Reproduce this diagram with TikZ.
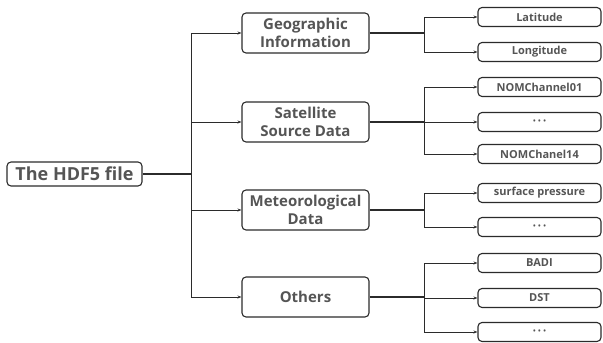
\documentclass[tikz,border=0pt]{standalone}
\usepackage{fontspec}
\setmainfont{Open Sans}
\usetikzlibrary{arrows.meta}
\definecolor{txt}{HTML}{555555}
\definecolor{ln}{HTML}{2B2B2B}
\newcommand{\mydots}{{\fontsize{7}{8}\selectfont •\hspace{2.5pt}•\hspace{2.5pt}•}}
\begin{document}
\begin{tikzpicture}[x=1pt,y=-1pt,
  box/.style={draw=ln,line width=1.1pt,rounded corners=4pt,text=txt,font=\bfseries,align=center,inner sep=0pt},
  rootbox/.style={box,minimum width=135pt,minimum height=24pt,font=\fontsize{18}{20}\selectfont\bfseries},
  midbox/.style={box,minimum width=127pt,minimum height=40pt,font=\fontsize{15}{17.5}\selectfont\bfseries},
  leafbox/.style={box,minimum width=123pt,minimum height=19pt,font=\fontsize{11}{12}\selectfont\bfseries},
  conn/.style={draw=ln,line width=0.9pt},
  arr/.style={conn,-{Stealth[length=4pt,width=3pt]}}]
\useasboundingbox (0,0) rectangle (603,343);
\node[rootbox] (root) at (74.5,174) {The HDF5 file};
\node[midbox] (geo) at (305.5,33) {Geographic\\Information};
\node[midbox] (sat) at (305.5,122) {Satellite\\Source Data};
\node[midbox] (met) at (305.5,210) {Meteorological\\Data};
\node[midbox] (oth) at (305.5,297) {Others};
\node[leafbox] (lat) at (539.5,17) {Latitude};
\node[leafbox] (lon) at (539.5,52) {Longitude};
\node[leafbox] (n01) at (539.5,87) {NOMChannel01};
\node[leafbox] (sd) at (539.5,122) {\mydots};
\node[leafbox] (n14) at (539.5,154) {NOMChanel14};
\node[leafbox] (sp) at (539.5,193) {surface pressure};
\node[leafbox] (md) at (539.5,227) {\mydots};
\node[leafbox] (badi) at (539.5,263) {BADI};
\node[leafbox] (dst) at (539.5,298) {DST};
\node[leafbox] (od) at (539.5,332) {\mydots};
\coordinate (tr) at (191,174);
\coordinate (gj) at (424,33);
\coordinate (sj) at (424,122);
\coordinate (mj) at (424,210);
\coordinate (oj) at (424,297);
\draw[conn,line width=1.4pt] (root.east) -- (tr);
\draw[arr] (tr) |- (geo.west);
\draw[arr] (tr) |- (sat.west);
\draw[arr] (tr) |- (met.west);
\draw[arr] (tr) |- (oth.west);
\draw[conn,line width=1.2pt] (geo.east) -- (gj);
\draw[conn,line width=1.2pt] (sat.east) -- (sj);
\draw[conn,line width=1.2pt] (met.east) -- (mj);
\draw[conn,line width=1.2pt] (oth.east) -- (oj);
\draw[arr] (gj) |- (lat.west);
\draw[arr] (gj) |- (lon.west);
\draw[arr] (sj) |- (n01.west);
\draw[arr] (sj) -- (sd.west);
\draw[arr] (sj) |- (n14.west);
\draw[arr] (mj) |- (sp.west);
\draw[arr] (mj) |- (md.west);
\draw[arr] (oj) |- (badi.west);
\draw[arr] (oj) |- (dst.west);
\draw[arr] (oj) |- (od.west);
\end{tikzpicture}
\end{document}
